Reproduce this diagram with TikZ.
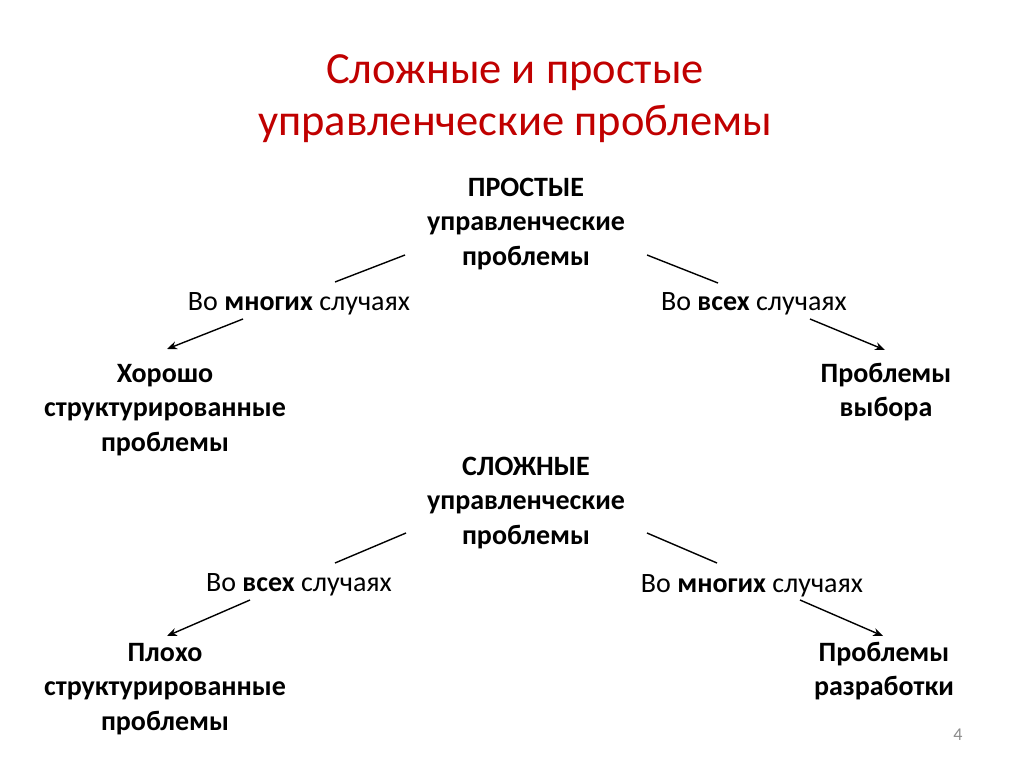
\documentclass[tikz,border=0pt]{standalone}
\usepackage{fontspec}
\setmainfont{Carlito}
\usetikzlibrary{arrows.meta}
\definecolor{titlered}{RGB}{192,0,0}
\begin{document}
\begin{tikzpicture}[x=1pt,y=-1pt,
  every node/.style={inner sep=0pt,outer sep=0pt},
  bodytext/.style={font=\fontsize{28}{34.5}\selectfont,align=center,text=black},
  boldtext/.style={bodytext,font=\fontsize{28}{34.5}\selectfont\bfseries},
  titletext/.style={font=\fontsize{44.5}{52}\selectfont,align=center,text=titlered},
  conn/.style={line width=1.4pt,black},
  arr/.style={conn,-{Stealth[length=10pt,width=8pt]}}]
\useasboundingbox (0,0) rectangle (1024,767);
\node[titletext] (title) at (515,99) {Сложные и простые\\управленческие проблемы};
\node[boldtext] (top1) at (526,224) {ПРОСТЫЕ\\управленческие\\проблемы};
\node[bodytext] (l1) at (299,304) {Во \textbf{многих} случаях};
\node[bodytext] (r1) at (754,304) {Во \textbf{всех} случаях};
\node[boldtext] (lb1) at (165,410) {Хорошо\\структурированные\\проблемы};
\node[boldtext] (rb1) at (886,392) {Проблемы\\выбора};
\node[boldtext] (top2) at (526,503) {СЛОЖНЫЕ\\управленческие\\проблемы};
\node[bodytext] (l2) at (299,585) {Во \textbf{всех} случаях};
\node[bodytext] (r2) at (752,586) {Во \textbf{многих} случаях};
\node[boldtext] (lb2) at (165,689) {Плохо\\структурированные\\проблемы};
\node[boldtext] (rb2) at (884,671) {Проблемы\\разработки};
\node[font=\fontsize{18}{20}\selectfont,text=black!45] (pg) at (958,735) {4};
% connector end points
\coordinate (a1) at (405,255); \coordinate (a2) at (335,282);
\coordinate (a3) at (243,319); \coordinate (a4) at (167,349);
\coordinate (b1) at (647,255); \coordinate (b2) at (718,283);
\coordinate (b3) at (810,319); \coordinate (b4) at (885,350);
\coordinate (c1) at (406,533); \coordinate (c2) at (335,563);
\coordinate (c3) at (250,600); \coordinate (c4) at (167,636);
\coordinate (d1) at (647,533); \coordinate (d2) at (717,563);
\coordinate (d3) at (800,600); \coordinate (d4) at (883,636);
\draw[conn] (a1) -- (a2);
\draw[arr] (a3) -- (a4);
\draw[conn] (b1) -- (b2);
\draw[arr] (b3) -- (b4);
\draw[conn] (c1) -- (c2);
\draw[arr] (c3) -- (c4);
\draw[conn] (d1) -- (d2);
\draw[arr] (d3) -- (d4);
\end{tikzpicture}
\end{document}
